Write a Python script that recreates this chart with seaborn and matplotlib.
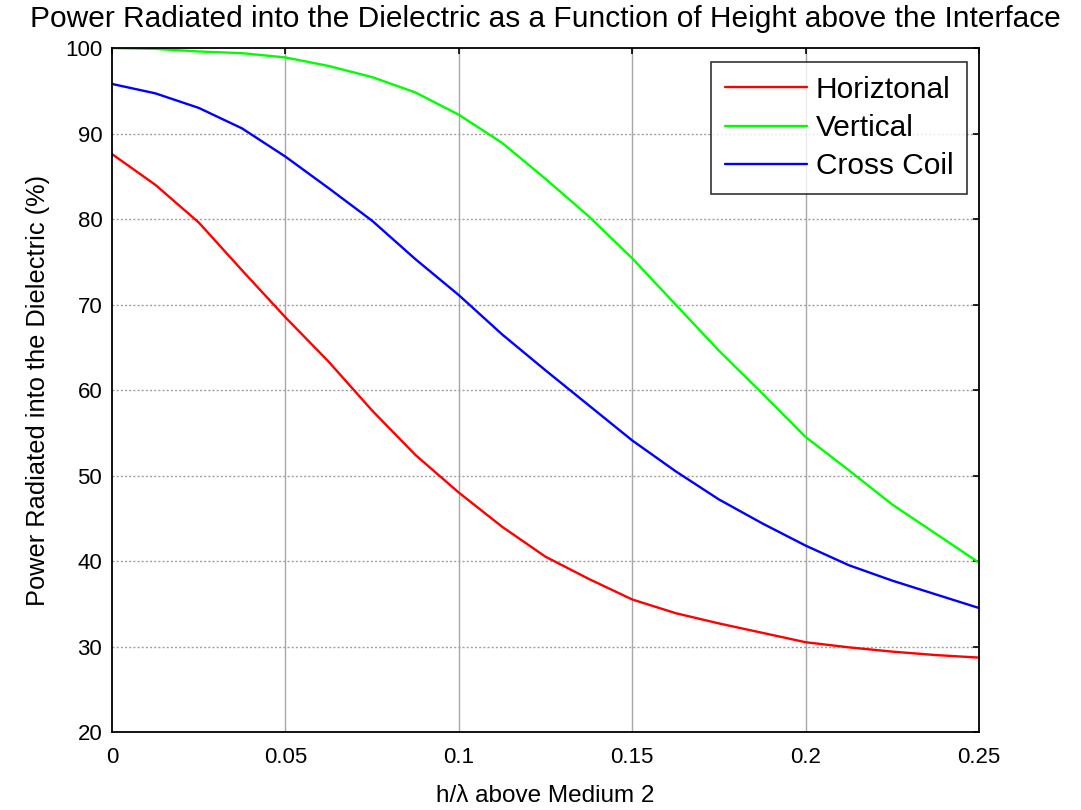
import numpy as np
import pandas as pd
import matplotlib
matplotlib.use("Agg")
import matplotlib.pyplot as plt
import seaborn as sns

h = [0, 0.0125, 0.025, 0.0375, 0.05, 0.0625, 0.075, 0.0875, 0.1, 0.1125, 0.125,
     0.1375, 0.15, 0.1625, 0.175, 0.1875, 0.2, 0.2125, 0.225, 0.2375, 0.25]
horizontal = [87.6, 84.0, 79.6, 74.0, 68.5, 63.3, 57.6, 52.4, 48.0, 44.0, 40.5,
              37.9, 35.5, 33.9, 32.7, 31.6, 30.5, 29.9, 29.4, 29.0, 28.7]
vertical = [100.0, 99.9, 99.6, 99.4, 98.9, 97.9, 96.6, 94.8, 92.2, 88.9, 84.7,
            80.3, 75.4, 70.0, 64.6, 59.6, 54.5, 50.6, 46.6, 43.2, 39.8]
cross = [95.8, 94.7, 93.0, 90.6, 87.3, 83.6, 79.8, 75.3, 71.1, 66.5, 62.3,
         58.2, 54.1, 50.5, 47.2, 44.4, 41.8, 39.5, 37.7, 36.1, 34.5]
series_names = ["Horiztonal", "Vertical", "Cross Coil"]
xticks = [0, 0.05, 0.1, 0.15, 0.2, 0.25]
xtick_labels = ["0", "0.05", "0.1", "0.15", "0.2", "0.25"]
yticks = [20, 30, 40, 50, 60, 70, 80, 90, 100]

df = pd.concat([
    pd.DataFrame({"h": h, "P": vals, "series": name})
    for name, vals in zip(series_names, [horizontal, vertical, cross])
])

sns.set_style("white")
plt.rcParams["font.family"] = ["Liberation Sans", "DejaVu Sans"]
plt.rcParams["text.color"] = "black"
plt.rcParams["axes.labelcolor"] = "black"

fig = plt.figure(figsize=(10.81, 8.10), dpi=100)
ax = fig.add_axes([0.1036, 0.0963, 0.8021, 0.8444])

sns.lineplot(data=df, x="h", y="P", hue="series", hue_order=series_names,
             palette=["#ff0000", "#00ff00", "#0000ff"], linewidth=1.7, ax=ax)

ax.set_xlim(0, 0.25)
ax.set_ylim(20, 100)
ax.set_xticks(xticks)
ax.set_xticklabels(xtick_labels)
ax.set_yticks(yticks)
ax.tick_params(direction="in", length=4, width=1.2, top=True, right=True,
               labelsize=16, colors="black")
ax.tick_params(axis="x", pad=11)
ax.tick_params(axis="y", pad=7)

for x in xticks[1:-1]:
    ax.axvline(x, color="#a8a8a8", lw=1.0, zorder=0)
for y in yticks[1:-1]:
    ax.axhline(y, color="#a0a0a0", lw=1.0, ls=(0, (1.5, 1.5)), zorder=0)

for s in ax.spines.values():
    s.set_visible(True)
    s.set_color("black")
    s.set_linewidth(1.3)

ax.set_xlabel("h/\u03bb above Medium 2", fontsize=17.5, labelpad=12)
ax.set_ylabel("Power Radiated into the Dielectric (%)", fontsize=18.3, labelpad=11)
ax.set_title("Power Radiated into the Dielectric as a Function of Height above the Interface",
             fontsize=21.5, pad=15)

leg = ax.legend(loc="upper right", bbox_to_anchor=(0.986, 0.979), fontsize=21.5,
                frameon=True, fancybox=False, handlelength=2.75, handletextpad=0.3,
                labelspacing=0.34, borderpad=0.45, borderaxespad=0)
leg.get_frame().set_edgecolor("black")
leg.get_frame().set_linewidth(1.2)
for line in leg.get_lines():
    line.set_linewidth(1.7)

fig.savefig("out.png", dpi=100)
